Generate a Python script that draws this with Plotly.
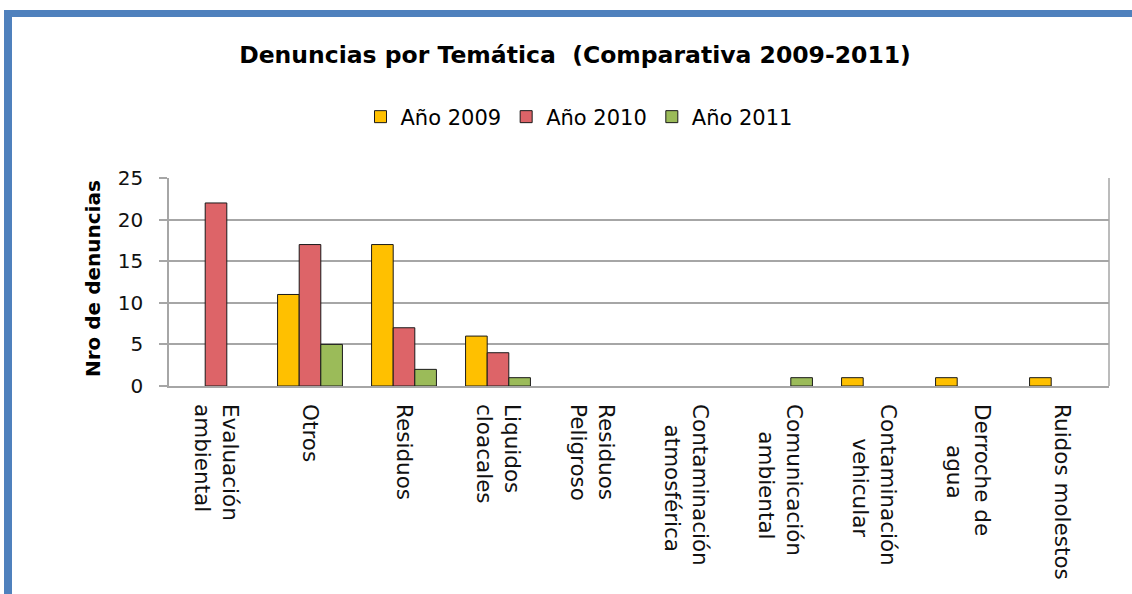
import plotly.graph_objects as go

NB = "\u00a0"
categories = [
    "Evaluación<br>ambiental",
    "Otros",
    "Residuos",
    "Liquidos<br>cloacales",
    "Residuos<br>Peligroso",
    "Contaminación<br>" + NB * 3 + "atmosférica",
    "Comunicación<br>" + NB * 4 + "ambiental",
    "Contaminación<br>" + NB * 5 + "vehicular",
    "Derroche de<br>" + NB * 6 + "agua",
    "Ruidos molestos",
]
v2009 = [0, 11, 17, 6, 0, 0, 0, 1, 1, 1]
v2010 = [22, 17, 7, 4, 0, 0, 0, 0, 0, 0]
v2011 = [0, 5, 2, 1, 0, 0, 1, 0, 0, 0]
series_names = ["Año 2009", "Año 2010", "Año 2011"]
colors = ["#FFC000", "#DD6468", "#9BBB59"]

FONT = "DejaVu Sans"
W, H = 1132, 594
L, R, T, B = 169, 23, 178, 208
pw, ph = W - L - R, H - T - B

fig = go.Figure()
for name, vals, col in zip(series_names, [v2009, v2010, v2011], colors):
    fig.add_trace(go.Bar(
        x=list(range(len(categories))),
        y=[v if v else None for v in vals],
        name=name,
        marker=dict(color=col, line=dict(color="#1a1a1a", width=1)),
    ))

def px_x(p):
    return (p - L) / pw

def px_y(p):
    return (H - B - p) / ph

blue = "#4F81BD"
grid = "#A6A6A6"
shapes = [
    dict(type="rect", xref="paper", yref="paper", x0=px_x(4), x1=px_x(12),
         y0=px_y(10), y1=px_y(H + 5), fillcolor=blue, line=dict(width=0), layer="above"),
    dict(type="rect", xref="paper", yref="paper", x0=px_x(4), x1=px_x(W + 5),
         y0=px_y(10), y1=px_y(17), fillcolor=blue, line=dict(width=0), layer="above"),
    dict(type="line", xref="paper", yref="paper", x0=1, x1=1, y0=0, y1=1,
         line=dict(color=grid, width=1.5)),
]

annotations = [
    dict(text="<b>Nro de denuncias</b>", xref="paper", yref="paper",
         x=px_x(93), y=px_y(279), xanchor="center", yanchor="middle",
         textangle=-90, showarrow=False,
         font=dict(size=20, family=FONT, color="#000")),
]

fig.update_layout(
    width=W, height=H,
    margin=dict(l=L, r=R, t=T, b=B, autoexpand=False),
    paper_bgcolor="white", plot_bgcolor="white",
    font=dict(family=FONT, color="#000"),
    barmode="group", bargap=0.31, bargroupgap=0,
    title=dict(text="<b>Denuncias por Temática  (Comparativa 2009-2011)</b>",
               x=575 / W, xanchor="center", y=1 - 55 / H, yanchor="middle",
               xref="container", yref="container",
               font=dict(size=23.5, family=FONT, color="#000")),
    legend=dict(orientation="h", x=579 / W, xanchor="center", xref="container",
                y=1 - 117 / H, yanchor="middle", yref="container",
                font=dict(size=21, family=FONT, color="#000"),
                itemwidth=30, traceorder="normal"),
    shapes=shapes,
    annotations=annotations,
    showlegend=True,
)
fig.update_xaxes(
    tickmode="array", tickvals=list(range(len(categories))), ticktext=categories,
    tickangle=90, tickfont=dict(size=21.5, family=FONT, color="#111"),
    showline=True, linecolor=grid, linewidth=1.5, showgrid=False,
    range=[-0.5, len(categories) - 0.5], ticks="", automargin=False,
    ticklabelstandoff=12,
)
fig.update_yaxes(
    range=[0, 25], dtick=5, tick0=0,
    showgrid=True, gridcolor=grid, gridwidth=1.5,
    showline=True, linecolor=grid, linewidth=1.5,
    ticks="outside", ticklen=8, tickcolor=grid, tickwidth=1.5,
    tickfont=dict(size=20, family=FONT, color="#111"),
    zeroline=False, automargin=False, ticklabelstandoff=12,
)

fig.write_html(
    "out.html",
    config={"displayModeBar": False},
    post_script="document.body.style.margin='0';document.body.style.overflow='hidden';",
)
